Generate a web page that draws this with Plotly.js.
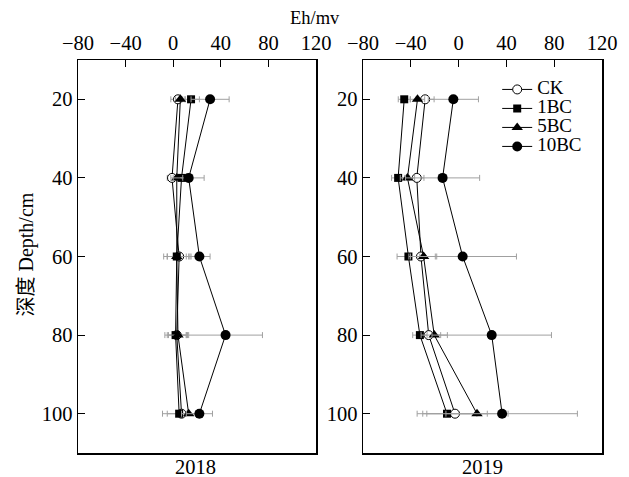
<!DOCTYPE html>
<html>
<head>
<meta charset="utf-8">
<script src="https://cdn.plot.ly/plotly-3.0.1.min.js"></script>
<style>html,body{margin:0;padding:0;background:#fff}</style>
</head>
<body>
<div id="chart" style="width:629px;height:477px"></div>
<script>
// Depth (cm)
const depth = [20, 40, 60, 80, 100];
const seriesNames = ['CK', '1BC', '5BC', '10BC'];

// 2018 Eh (mV)
const ck2018 = [4, -1, 5, 3, 7];
const bc1_2018 = [15, 7, 3, 2, 5];
const bc5_2018 = [6, 3, 3, 4, 13];
const bc10_2018 = [31, 13, 22, 44, 22];
const ck2018Err = [6, 4, 10, 8, 12];
const bc1_2018Err = [7, 5, 11, 9, 14];
const bc5_2018Err = [4, 5, 8, 8, 6];
const bc10_2018Err = [16, 13, 9, 31, 11];

// 2019 Eh (mV)
const ck2019 = [-28, -35, -31.5, -25, -3];
const bc1_2019 = [-45.5, -50.6, -42, -32.4, -9.7];
const bc5_2019 = [-34.4, -42.8, -29.3, -20.4, 15.4];
const bc10_2019 = [-4.4, -13.4, 3.4, 27.7, 36.4];
const ck2019Err = [7.5, 6, 12, 10, 27];
const bc1_2019Err = [5, 5.5, 9.5, 6, 25];
const bc5_2019Err = [6, 6, 11, 11, 26];
const bc10_2019Err = [21, 31, 45, 50, 63];

const xTicks = [-80, -40, 0, 40, 80, 120];
const yTicks = [20, 40, 60, 80, 100];
const panelLabels = ['2018', '2019'];

const FONT = 'Liberation Serif, Times New Roman, Noto Sans CJK SC, serif';

const markerStyles = [
  {symbol: 'circle', size: 9, color: '#ffffff', line: {color: '#000', width: 1}},
  {symbol: 'square', size: 8, color: '#000', line: {color: '#000', width: 0}},
  {symbol: 'triangle-up', size: 10, color: '#000', line: {color: '#000', width: 0}},
  {symbol: 'circle', size: 10, color: '#000', line: {color: '#000', width: 0}}
];

function mk(x, err, idx, xa, ya, showLegend) {
  return {
    type: 'scatter', mode: 'lines+markers',
    x: x, y: depth, xaxis: xa, yaxis: ya,
    name: '<span style="font-size:19px">' + seriesNames[idx] + '</span>',
    showlegend: showLegend,
    line: {color: '#000', width: 1},
    marker: markerStyles[idx],
    error_x: {type: 'data', array: err, visible: true, color: '#a0a0a0', thickness: 1, width: 3}
  };
}

const data2018 = [ck2018, bc1_2018, bc5_2018, bc10_2018];
const err2018 = [ck2018Err, bc1_2018Err, bc5_2018Err, bc10_2018Err];
const data2019 = [ck2019, bc1_2019, bc5_2019, bc10_2019];
const err2019 = [ck2019Err, bc1_2019Err, bc5_2019Err, bc10_2019Err];

const traces = [];
for (let i = 0; i < 4; i++) traces.push(mk(data2018[i], err2018[i], i, 'x', 'y', false));
for (let i = 0; i < 4; i++) traces.push(mk(data2019[i], err2019[i], i, 'x2', 'y2', true));

const axX = {
  range: [-80, 120], tickvals: xTicks, ticktext: xTicks.map(v => v < 0 ? '\u2212' + Math.abs(v) : String(v)),
  side: 'top', ticks: 'inside', ticklen: 7, tickwidth: 1, tickcolor: '#000',
  showline: true, mirror: true, linecolor: '#000', linewidth: 1.5,
  showgrid: false, zeroline: false, tickfont: {family: FONT, size: 20.5, color: '#000'}
};
const axY = {
  range: [110, 10], tickvals: yTicks, ticks: 'inside', ticklen: 7, tickwidth: 1, tickcolor: '#000',
  showline: true, mirror: true, linecolor: '#000', linewidth: 1.5,
  showgrid: false, zeroline: false, tickfont: {family: FONT, size: 20.5, color: '#000'}
};

const layout = {
  width: 629, height: 477,
  margin: {l: 78, r: 27, t: 60, b: 24},
  paper_bgcolor: '#fff', plot_bgcolor: '#fff',
  font: {family: FONT, size: 19, color: '#000'},
  xaxis: Object.assign({}, axX, {domain: [0, 0.4542], anchor: 'y'}),
  yaxis: Object.assign({}, axY, {domain: [0, 1], anchor: 'x'}),
  xaxis2: Object.assign({}, axX, {domain: [0.5439, 1], anchor: 'y2'}),
  yaxis2: Object.assign({}, axY, {domain: [0, 1], anchor: 'x2'}),
  showlegend: true,
  legend: {x: 0.80, y: 0.962, xanchor: 'left', yanchor: 'top', bgcolor: 'rgba(0,0,0,0)',
           font: {family: FONT, size: 12, color: '#000'}, tracegroupgap: 0},
  annotations: [
    {text: 'Eh/mv', xref: 'paper', yref: 'paper', x: 0.452, y: 1, yshift: 42, xanchor: 'center', yanchor: 'middle', showarrow: false, font: {family: FONT, size: 18.5}},
    {text: panelLabels[0], xref: 'paper', yref: 'paper', x: 0.2235, y: 0, yshift: -14, xanchor: 'center', yanchor: 'middle', showarrow: false, font: {family: FONT, size: 20.5}},
    {text: panelLabels[1], xref: 'paper', yref: 'paper', x: 0.7725, y: 0, yshift: -14, xanchor: 'center', yanchor: 'middle', showarrow: false, font: {family: FONT, size: 20.5}},
    {text: '深度 Depth/cm', xref: 'paper', yref: 'paper', x: 0, xshift: -51, y: 0.505, xanchor: 'center', yanchor: 'middle', textangle: -90, showarrow: false, font: {family: FONT, size: 20}}
  ]
};

Plotly.newPlot('chart', traces, layout, {displayModeBar: false, staticPlot: true});
</script>
</body>
</html>
